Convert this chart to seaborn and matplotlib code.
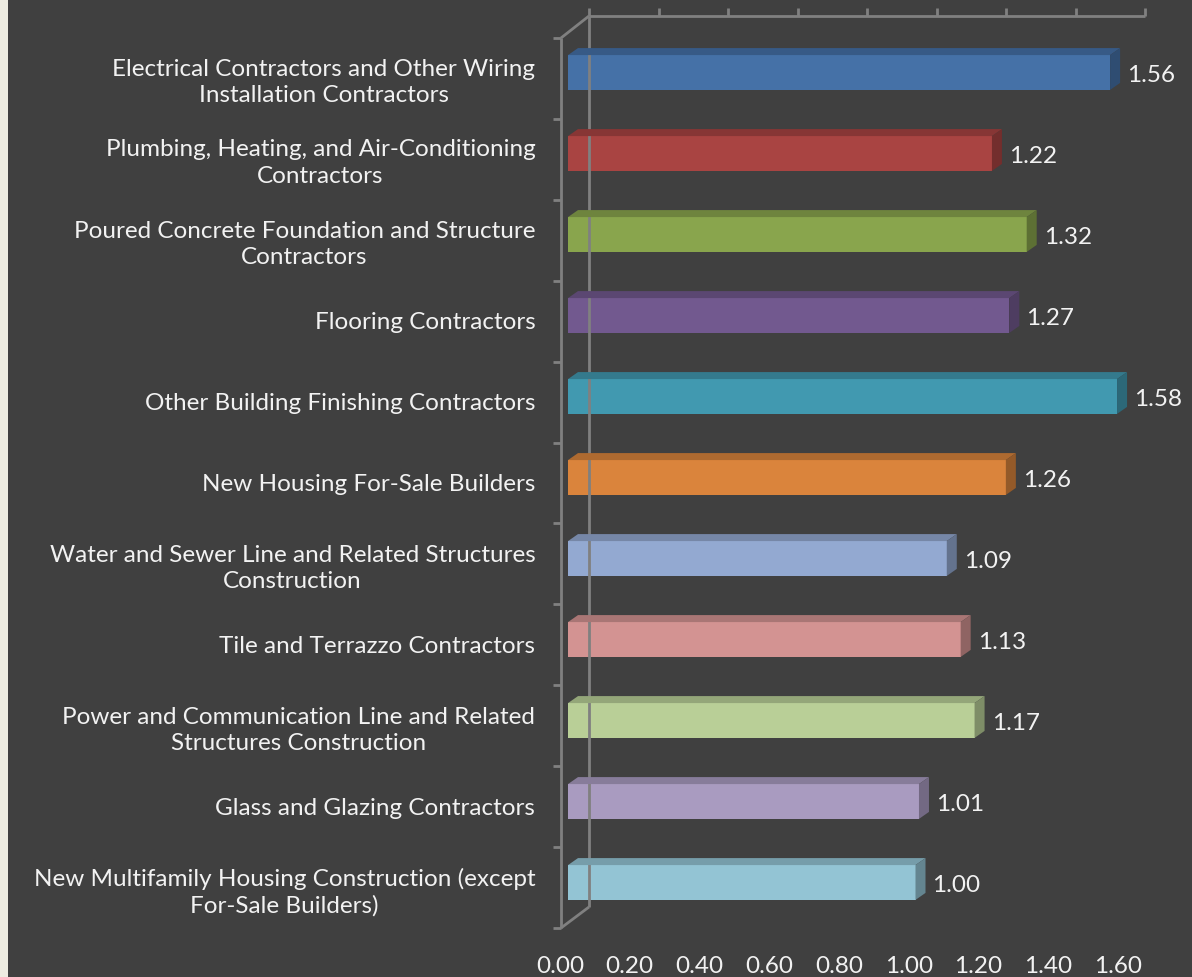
import matplotlib
matplotlib.use("Agg")
import matplotlib.pyplot as plt
import seaborn as sns
import pandas as pd
import numpy as np
from matplotlib.patches import Polygon, Rectangle
from matplotlib.lines import Line2D
import matplotlib.colors as mcolors
import matplotlib.transforms as mtrans

categories = [
    "Electrical Contractors and Other Wiring\nInstallation Contractors",
    "Plumbing, Heating, and Air-Conditioning\nContractors",
    "Poured Concrete Foundation and Structure\nContractors",
    "Flooring Contractors",
    "Other Building Finishing Contractors",
    "New Housing For-Sale Builders",
    "Water and Sewer Line and Related Structures\nConstruction",
    "Tile and Terrazzo Contractors",
    "Power and Communication Line and Related\nStructures Construction",
    "Glass and Glazing Contractors",
    "New Multifamily Housing Construction (except\nFor-Sale Builders)",
]
values = [1.56, 1.22, 1.32, 1.27, 1.58, 1.26, 1.09, 1.13, 1.17, 1.01, 1.00]
bar_colors = ["#4571A7", "#A94442", "#89A54D", "#72598F", "#4199B0", "#DA843C",
              "#93A9D1", "#D39392", "#B9CF97", "#A99BC0", "#93C4D4"]
xticks = [0.0, 0.2, 0.4, 0.6, 0.8, 1.0, 1.2, 1.4, 1.6]
xtick_labels = ["0.00", "0.20", "0.40", "0.60", "0.80", "1.00", "1.20", "1.40", "1.60"]

W, H = 1192, 977
BG = "#404040"
TXT = "#F2F2F2"
FRAME = "#808080"
FS = 17.5

sns.set_theme(style="dark")
plt.rcParams["font.family"] = ["Lato", "DejaVu Sans"]

fig = plt.figure(figsize=(W / 100, H / 100), dpi=100, facecolor=BG)
fig.patches.append(Rectangle((0, 0), 8 / W, 1, transform=fig.transFigure,
                             facecolor="#EEECE1", edgecolor="none", zorder=0))

# axis used only for the value tick labels (front plane of the 3D projection)
axl = fig.add_axes([560 / W, 1 - 923 / H, 558 / W, 891 / H])
axl.set_facecolor("none")
axl.set_xlim(0, 1.6)
axl.set_xticks(xticks)
axl.set_xticklabels(xtick_labels)
axl.set_yticks([])
axl.tick_params(axis="x", length=0, pad=24, labelsize=FS, labelcolor=TXT)
for s in axl.spines.values():
    s.set_visible(False)
axl.grid(False)

ax = fig.add_axes([568 / W, 1 - 923 / H, 556 / W, 891 / H])
ax.set_facecolor("none")

df = pd.DataFrame({"category": categories, "value": values})
sns.barplot(data=df, x="value", y="category", hue="category", palette=bar_colors,
            orient="h", width=0.43, legend=False, ax=ax, saturation=1,
            edgecolor="none", linewidth=0)
ax.set_xlim(0, 1.6)
ax.set_ylim(len(categories) - 0.5, -0.5)
for s in ax.spines.values():
    s.set_visible(False)
ax.grid(False)
ax.set_xlabel("")
ax.set_ylabel("")
ax.set_xticks([])
ax.tick_params(axis="y", length=0, pad=23.5, labelsize=FS, labelcolor=TXT)

fig.canvas.draw()
shift = mtrans.ScaledTranslation(0, -5 / 100, fig.dpi_scale_trans)
for tk in ax.yaxis.get_major_ticks():
    lab = tk.label1
    lab.set_multialignment("center")
    lab.set_linespacing(1.32)
    lab.set_transform(lab.get_transform() + shift)

def pix(xd, yd):
    X, Y = ax.transData.transform((xd, yd))
    return X, Y

def fig_line(pts, **kw):
    xs = [p[0] / W for p in pts]
    ys = [1 - p[1] / H for p in pts]
    fig.add_artist(Line2D(xs, ys, transform=fig.transFigure, color=FRAME, lw=2,
                          solid_capstyle="butt", zorder=1, **kw))

# 3D frame (back wall, floor edges, front axis)
fig_line([(561, 38), (561, 928)])
fig_line([(589, 16), (589, 907)])
fig_line([(589, 16), (1145, 16)])
fig_line([(561, 38), (589, 16)])
fig_line([(561, 928), (589, 907)])
for k in range(len(categories) + 1):
    yk = 38 + k * (928 - 38) / len(categories)
    fig_line([(553, yk), (561, yk)])
for v in xticks:
    X, _ = pix(v, 0)
    xb = X + 21
    fig_line([(xb, 8), (xb, 16)])

# depth faces of the bars
dx, dy = 10, 7
def darker(c, f):
    r, g, b = mcolors.to_rgb(c)
    return (r * f, g * f, b * f)

label_tr = ax.transData + mtrans.ScaledTranslation(17 / 100, 0, fig.dpi_scale_trans)
for i, (v, c) in enumerate(zip(values, bar_colors)):
    x0, yt = pix(0, i - 0.215)
    x1, yb = pix(v, i + 0.215)
    top = Polygon([(x0, yt), (x1, yt), (x1 + dx, yt + dy), (x0 + dx, yt + dy)],
                  closed=True, transform=None, facecolor=darker(c, 0.8),
                  edgecolor="none", zorder=2)
    side = Polygon([(x1, yb), (x1, yt), (x1 + dx, yt + dy), (x1 + dx, yb + dy)],
                   closed=True, transform=None, facecolor=darker(c, 0.68),
                   edgecolor="none", zorder=2)
    fig.add_artist(top)
    fig.add_artist(side)
    ax.text(v, i + 0.04, f"{v:.2f}", color=TXT, fontsize=FS, va="center",
            ha="left", transform=label_tr)

for p in ax.patches:
    p.set_zorder(3)

fig.savefig("out.png", dpi=100, facecolor=BG)
